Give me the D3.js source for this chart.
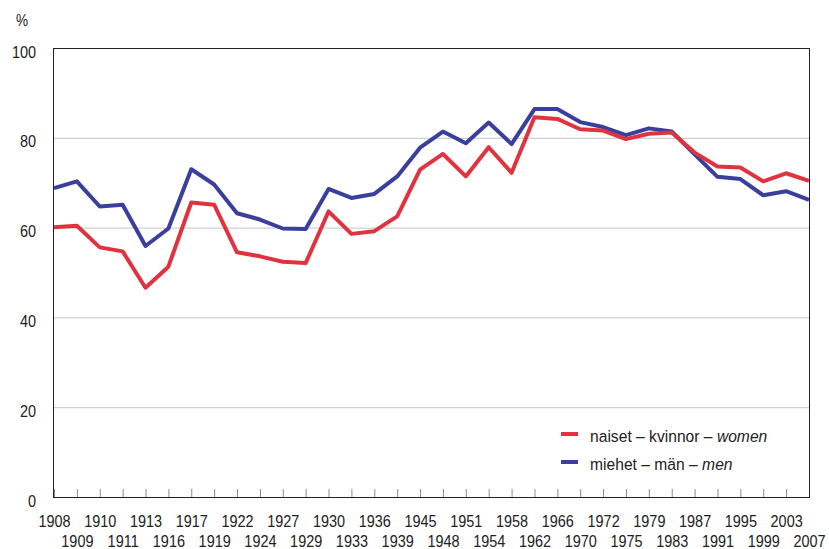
<!DOCTYPE html>
<meta charset="utf-8">
<style>
body { margin: 0; background: #fff; }
svg { font-family: "Liberation Sans", Arial, sans-serif; }
.grid line { stroke: #c4c4c4; stroke-width: 1px; }
.xaxis .tick line { stroke: #8a8a8a; }
.lbl { fill: #222; }
</style>
<svg width="829" height="549"></svg>
<script src="https://d3js.org/d3.v7.min.js"></script>
<script>

var years = ["1908","1909","1910","1911","1913","1916","1917","1919","1922","1924",
  "1927","1929","1930","1933","1936","1939","1945","1948","1951","1954",
  "1958","1962","1966","1970","1972","1975","1979","1983","1987","1991",
  "1995","1999","2003","2007"];

var women = [60.1, 60.4, 55.6, 54.7, 46.6, 51.3, 65.6, 65.1, 54.5, 53.6,
  52.4, 52.1, 63.6, 58.6, 59.2, 62.5, 72.9, 76.4, 71.4, 77.9,
  72.2, 84.6, 84.2, 81.9, 81.6, 79.7, 80.9, 81.2, 76.7, 73.6,
  73.4, 70.3, 72.1, 70.4];

var men = [68.8, 70.3, 64.7, 65.1, 55.9, 59.8, 73.0, 69.6, 63.2, 61.8,
  59.8, 59.7, 68.6, 66.6, 67.5, 71.4, 77.8, 81.4, 78.8, 83.4,
  78.6, 86.4, 86.4, 83.5, 82.4, 80.6, 82.1, 81.4, 76.3, 71.3,
  70.8, 67.2, 68.1, 66.2];

var yTicks = [0, 20, 40, 60, 80, 100];

var svg = d3.select("svg"),
    pLeft = 53, pRight = 809, pTop = 48, pBottom = 497;

var x = d3.scalePoint().domain(years).range([pLeft + 1, pRight]);
var y = d3.scaleLinear().domain([0, 100]).range([pBottom, pTop]);

// grid
svg.append("g").attr("class", "grid")
  .selectAll("line")
  .data(yTicks.filter(function(d) { return d > 0 && d < 100; }))
  .enter().append("line")
    .attr("x1", pLeft).attr("x2", pRight)
    .attr("y1", function(d) { return y(d) + 0.5; })
    .attr("y2", function(d) { return y(d) + 0.5; });

// x axis ticks + two-row labels
var xa = svg.append("g")
    .attr("class", "xaxis")
    .attr("transform", "translate(0," + pBottom + ")")
    .call(d3.axisBottom(x).tickSizeInner(-8).tickSizeOuter(0));
xa.select(".domain").remove();
xa.selectAll(".tick text")
    .attr("class", "lbl")
    .attr("dy", 0)
    .attr("y", function(d, i) { return i % 2 == 0 ? 30 : 50; })
    .attr("transform", "scale(0.85,1)")
    .style("font-size", "17px")
    .style("font-family", "Liberation Sans, Arial, sans-serif");

// y axis labels
var ya = svg.append("g")
    .attr("transform", "translate(" + pLeft + ",0)")
    .call(d3.axisLeft(y).tickValues(yTicks).tickSize(0));
ya.select(".domain").remove();
ya.selectAll(".tick text")
    .attr("class", "lbl")
    .attr("x", 0)
    .attr("dy", 0)
    .attr("y", 9)
    .attr("transform", "translate(-17,0) scale(0.85,1)")
    .style("font-size", "17px")
    .style("font-family", "Liberation Sans, Arial, sans-serif");

svg.append("text")
    .attr("class", "lbl")
    .attr("transform", "translate(16,26) scale(0.85,1)")
    .style("font-size", "16px")
    .text("%");

// frame
svg.append("rect")
    .attr("x", pLeft + 0.5).attr("y", pTop + 0.5)
    .attr("width", pRight - pLeft).attr("height", pBottom - pTop)
    .attr("fill", "none")
    .attr("stroke", "#222")
    .attr("stroke-width", 1);

var line = d3.line()
    .x(function(d, i) { return x(years[i]); })
    .y(function(d) { return y(d); });

var series = [
  {name: "men", values: men, color: "#3a3f9e"},
  {name: "women", values: women, color: "#e1323f"}
];

svg.selectAll(".series")
  .data(series)
  .enter().append("path")
    .attr("class", "series")
    .attr("d", function(d) { return line(d.values); })
    .attr("fill", "none")
    .attr("stroke", function(d) { return d.color; })
    .attr("stroke-width", 4)
    .attr("stroke-linejoin", "round");

// legend
var legend = [
  {color: "#e1323f", text: "naiset – kvinnor – ", it: "women", y: 434},
  {color: "#3a3f9e", text: "miehet – män – ", it: "men", y: 462}
];

var lg = svg.selectAll(".leg")
  .data(legend)
  .enter().append("g")
    .attr("class", "leg");

lg.append("line")
    .attr("x1", 561).attr("x2", 578)
    .attr("y1", function(d) { return d.y; })
    .attr("y2", function(d) { return d.y; })
    .attr("stroke", function(d) { return d.color; })
    .attr("stroke-width", 4);

var lt = lg.append("text")
    .attr("class", "lbl")
    .attr("transform", function(d) { return "translate(590," + (d.y + 8) + ") scale(0.92,1)"; })
    .style("font-size", "17px");
lt.append("tspan").text(function(d) { return d.text; });
lt.append("tspan").style("font-style", "italic").text(function(d) { return d.it; });

</script>
